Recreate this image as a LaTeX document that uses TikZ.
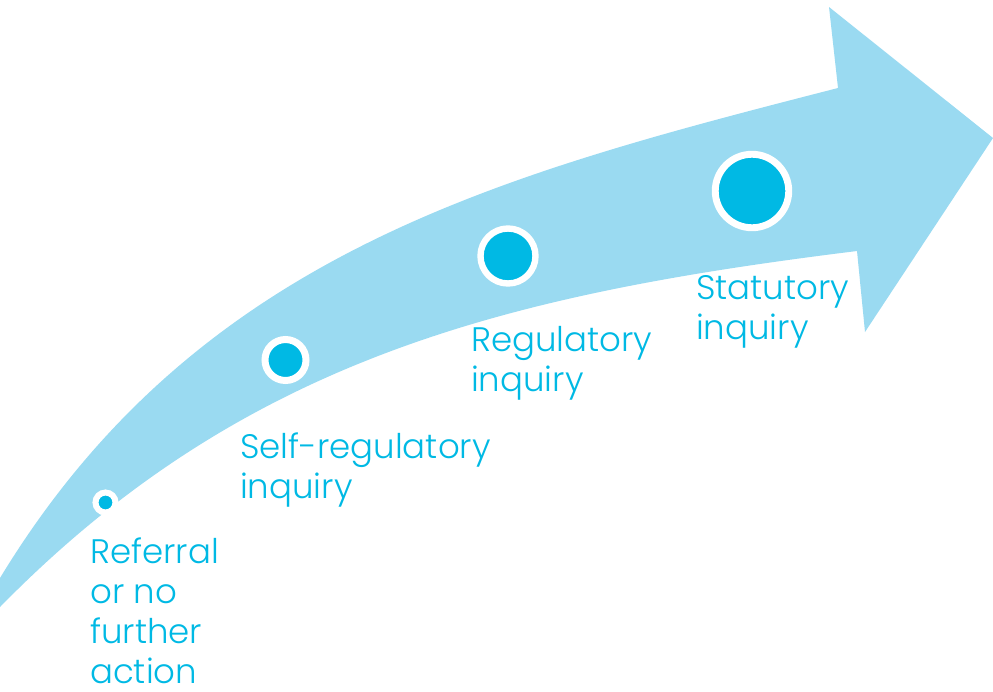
\documentclass[tikz,border=0pt]{standalone}
\usepackage{fontspec}
\setmainfont{Poppins}[UprightFont=* Light]
\definecolor{arrowblue}{RGB}{154,218,241}
\definecolor{dotblue}{RGB}{0,185,228}
\begin{document}
\begin{tikzpicture}[x=1pt,y=-1pt,
  dot/.style={circle,fill=dotblue,draw=white,inner sep=0pt},
  lbl/.style={anchor=base west,align=left,inner sep=0pt,text=dotblue,
    font=\fontsize{34}{40}\selectfont}]
\useasboundingbox (0,0) rectangle (993,691);
\begin{scope}
\clip (0,0) rectangle (993,691);
\fill[arrowblue] (0,607) .. controls (245,357) and (510,294) .. (857,251)
  -- (865,332) -- (993,138) -- (829,7) -- (838,88)
  .. controls (499,175) and (197.6,253) .. (0,578) -- cycle;
\end{scope}
\node[dot,minimum size=20pt,line width=6pt] (d1) at (105.5,502.5) {};
\node[dot,minimum size=41pt,line width=7pt] (d2) at (285.5,360) {};
\node[dot,minimum size=55pt,line width=6.4pt] (d3) at (508,256) {};
\node[dot,minimum size=73.5pt,line width=6.9pt] (d4) at (752,191) {};
\node[lbl] (t1) at (90,683) {Referral\\or no\\further\\action};
\node[lbl] (t2) at (240,498) {Self-regulatory\\inquiry};
\node[lbl] (t3) at (471,391) {Regulatory\\inquiry};
\node[lbl] (t4) at (696,339) {Statutory\\inquiry};
\end{tikzpicture}
\end{document}
